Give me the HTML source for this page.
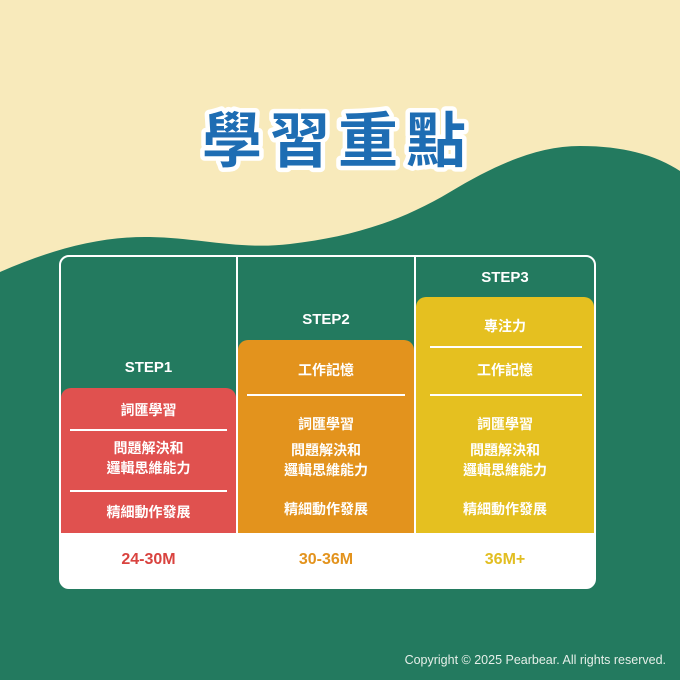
<!DOCTYPE html>
<html><head><meta charset="utf-8"><style>
body{margin:0;width:680px;height:680px;overflow:hidden;background:#f8eabb;position:relative;font-family:"Liberation Sans","Noto Sans CJK TC",sans-serif;}
.a{position:absolute;}
.t{position:absolute;color:#fff;font-weight:bold;text-align:center;font-size:14px;line-height:20px;}
.ln{position:absolute;height:1.5px;background:#fff;}
</style></head><body>
<svg class="a" style="left:0;top:0" width="680" height="680">
<path d="M0 272 C50 250 100 236 150 237 C200 238 240 250 290 244 C350 237 400 222 450 192 C500 162 540 146 580 146 C630 146 660 158 680 171 L680 680 L0 680Z" fill="#237a5f"/>
<rect x="60" y="256" width="535" height="332" rx="9" fill="#237a5f" stroke="#fff" stroke-width="2"/>
<path d="M60 533 H595 V580 a8 8 0 0 1 -8 8 H68 a8 8 0 0 1 -8 -8Z" fill="#fff"/>
<path d="M61 533 V398 a10 10 0 0 1 10 -10 H226 a10 10 0 0 1 10 10 V533Z" fill="#e0514f"/>
<path d="M238 533 V350 a10 10 0 0 1 10 -10 H404 a10 10 0 0 1 10 10 V533Z" fill="#e3931d"/>
<path d="M416 533 V307 a10 10 0 0 1 10 -10 H584 a10 10 0 0 1 10 10 V533Z" fill="#e5c020"/>
<line x1="237" y1="257" x2="237" y2="533" stroke="#fff" stroke-width="2"/>
<line x1="415" y1="257" x2="415" y2="533" stroke="#fff" stroke-width="2"/>
<text x="338" y="162" text-anchor="middle" font-family="'Noto Sans CJK TC',sans-serif" font-weight="bold" font-size="60" letter-spacing="8" fill="#1e6db3" stroke="#fff" stroke-width="9" paint-order="stroke" stroke-linejoin="round">學習重點</text>
</svg>
<div class="t" style="left:60px;width:177px;top:358px;font-size:15px">STEP1</div>
<div class="t" style="left:237px;width:178px;top:310px;font-size:15px">STEP2</div>
<div class="t" style="left:415px;width:180px;top:268px;font-size:15px">STEP3</div>

<div class="t" style="left:60px;width:177px;top:400px">詞匯學習</div>
<div class="ln" style="left:70px;width:157px;top:429px"></div>
<div class="t" style="left:60px;width:177px;top:438px">問題解決和<br>邏輯思維能力</div>
<div class="ln" style="left:70px;width:157px;top:490px"></div>
<div class="t" style="left:60px;width:177px;top:502px">精細動作發展</div>

<div class="t" style="left:237px;width:178px;top:360px">工作記憶</div>
<div class="ln" style="left:247px;width:158px;top:394px"></div>
<div class="t" style="left:237px;width:178px;top:414px">詞匯學習</div>
<div class="t" style="left:237px;width:178px;top:440px">問題解決和<br>邏輯思維能力</div>
<div class="t" style="left:237px;width:178px;top:499px">精細動作發展</div>

<div class="t" style="left:415px;width:180px;top:316px">專注力</div>
<div class="ln" style="left:430px;width:152px;top:346px"></div>
<div class="t" style="left:415px;width:180px;top:360px">工作記憶</div>
<div class="ln" style="left:430px;width:152px;top:394px"></div>
<div class="t" style="left:415px;width:180px;top:414px">詞匯學習</div>
<div class="t" style="left:415px;width:180px;top:440px">問題解決和<br>邏輯思維能力</div>
<div class="t" style="left:415px;width:180px;top:499px">精細動作發展</div>

<div class="t" style="left:60px;width:177px;top:550px;font-size:16px;color:#d9433f">24-30M</div>
<div class="t" style="left:237px;width:178px;top:550px;font-size:16px;color:#e3931d">30-36M</div>
<div class="t" style="left:415px;width:180px;top:550px;font-size:16px;color:#e2be22">36M+</div>

<div class="a" style="right:14px;top:653px;color:#e6efe9;font-size:12.5px;">Copyright © 2025 Pearbear. All rights reserved.</div>
</body></html>
